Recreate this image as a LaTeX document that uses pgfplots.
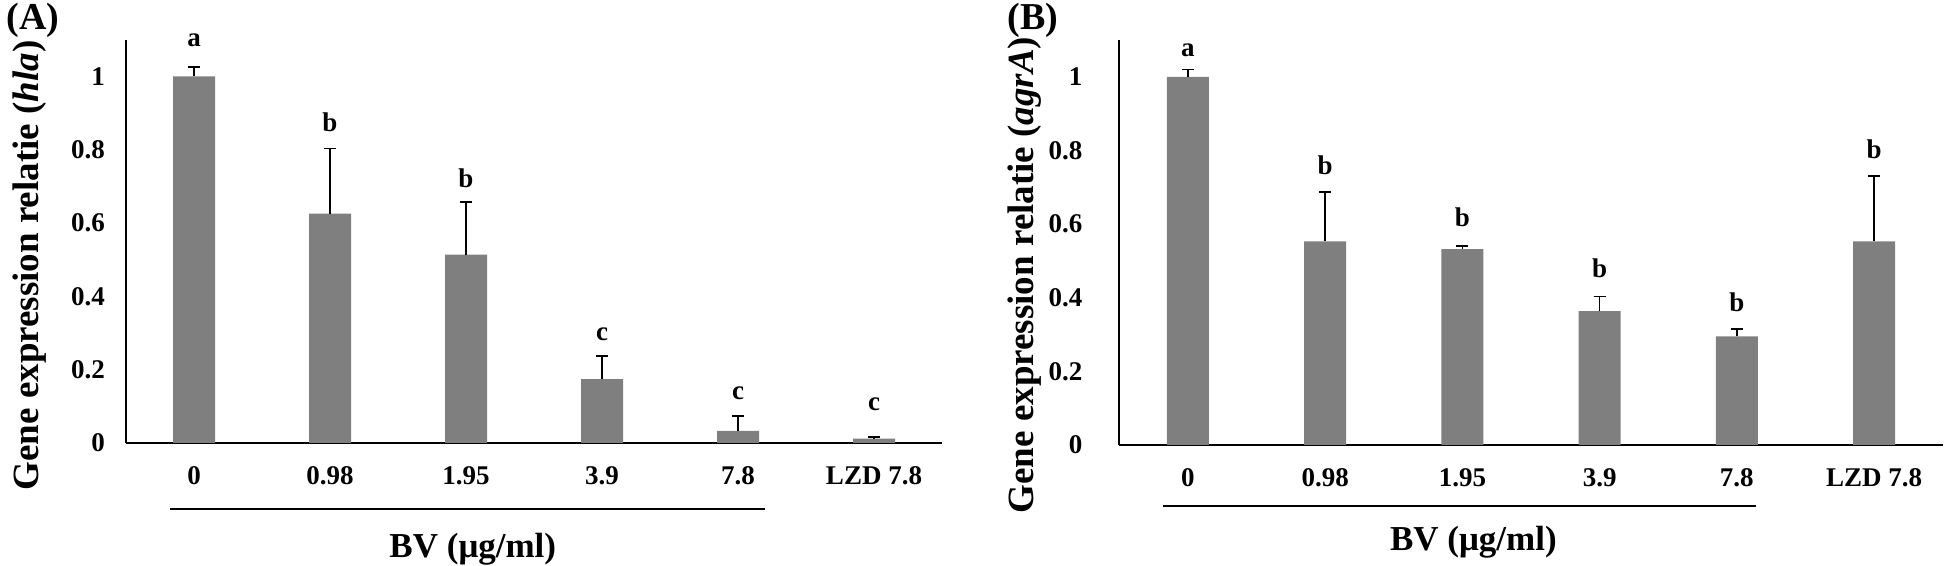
\documentclass[border=0pt]{standalone}
\usepackage{fontspec}
\setmainfont{Liberation Serif}
\usepackage{pgfplots}
\usepackage{pgfplotstable}
\pgfplotsset{compat=1.18}
\definecolor{bargray}{RGB}{127,127,127}
\newcommand{\lf}{\fontsize{13.5}{16}\selectfont\bfseries}
\newcommand{\yf}{\fontsize{18.5}{21}\selectfont\bfseries}
\newcommand{\bvf}{\fontsize{17.5}{20}\selectfont\bfseries}

\pgfplotstableread{
x y e
0 1.000 0.025
1 0.626 0.177
2 0.514 0.143
3 0.174 0.063
4 0.033 0.041
5 0.012 0.004
}\dataA

\pgfplotstableread{
x y e
0 1.000 0.020
1 0.553 0.134
2 0.532 0.009
3 0.364 0.039
4 0.295 0.020
5 0.553 0.178
}\dataB

\pgfplotsset{
 panel/.style={
  scale only axis, anchor=south west,
  xmin=-0.5, xmax=5.5, ymin=0, ymax=1.1,
  axis x line=bottom, axis y line=left,
  axis line style={-, line width=1pt, black},
  major tick length=0pt,
  xtick={0,1,2,3,4,5},
  xticklabels={0,0.98,1.95,3.9,7.8,LZD 7.8},
  ytick={0,0.2,0.4,0.6,0.8,1},
  yticklabels={0,0.2,0.4,0.6,0.8,1},
  ticklabel style={font=\lf},
  xticklabel style={anchor=base, yshift=-21pt},
  yticklabel style={anchor=east, xshift=-7pt},
  ybar, bar width=21pt,
  clip=false,
 },
 bars/.style={fill=bargray, draw=none,
   error bars/.cd, y dir=plus, y explicit,
   error bar style={line width=0.8pt, black},
   error mark options={rotate=90, line width=0.8pt, black, mark size=3pt}},
}

\begin{document}
\begin{tikzpicture}
\useasboundingbox (0,0) rectangle (973pt,283pt);

\begin{axis}[panel, at={(63pt,61.5pt)}, width=408pt, height=201.6pt]
\addplot[bars] table[x=x,y=y,y error=e]{\dataA};
\node[font=\lf] at (axis cs:0,1.099) {a};
\node[font=\lf] at (axis cs:1,0.876) {b};
\node[font=\lf] at (axis cs:2,0.723) {b};
\node[font=\lf] at (axis cs:3,0.297) {c};
\node[font=\lf] at (axis cs:4,0.136) {c};
\node[font=\lf] at (axis cs:5,0.106) {c};
\draw[line width=1pt] (axis cs:-0.18,-0.18) -- (axis cs:4.2,-0.18);
\node[font=\bvf] at (axis cs:2.05,-0.289) {BV (μg/ml)};
\end{axis}

\begin{axis}[panel, at={(559.65pt,60.5pt)}, width=411.7pt, height=202.4pt,
  yticklabel style={anchor=east, xshift=-8pt}]
\addplot[bars] table[x=x,y=y,y error=e]{\dataB};
\node[font=\lf] at (axis cs:0,1.073) {a};
\node[font=\lf] at (axis cs:1,0.760) {b};
\node[font=\lf] at (axis cs:2,0.620) {b};
\node[font=\lf] at (axis cs:3,0.480) {b};
\node[font=\lf] at (axis cs:4,0.387) {b};
\node[font=\lf] at (axis cs:5,0.804) {b};
\draw[line width=1pt] (axis cs:-0.18,-0.166) -- (axis cs:4.14,-0.166);
\node[font=\bvf] at (axis cs:2.08,-0.265) {BV (μg/ml)};
\end{axis}

\node[rotate=90, font=\yf] at (15pt,150.25pt) {Gene expression relatie (\textit{hla})};
\node[rotate=90, font=\yf] at (512.5pt,145.5pt) {Gene expression relatie (\textit{agrA})};
\node[font=\fontsize{19}{22}\selectfont\bfseries] at (16.5pt,273pt) {(A)};
\node[font=\fontsize{19}{22}\selectfont\bfseries] at (516.5pt,273pt) {(B)};
\end{tikzpicture}
\end{document}
